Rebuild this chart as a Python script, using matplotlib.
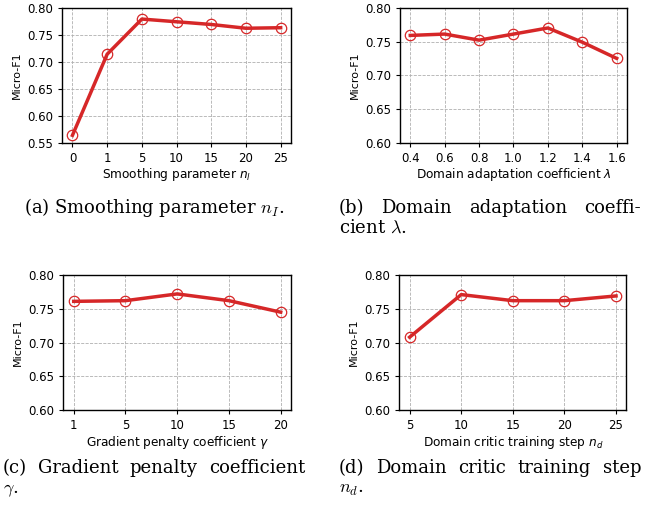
import numpy as np
import matplotlib
matplotlib.use('Agg')
import matplotlib.pyplot as plt

# Data
smooth_x = ['0', '1', '5', '10', '15', '20', '25']
smooth_y = [0.564, 0.714, 0.779, 0.774, 0.769, 0.762, 0.763]

lambda_x = ['0.4', '0.6', '0.8', '1.0', '1.2', '1.4', '1.6']
lambda_y = [0.759, 0.761, 0.752, 0.761, 0.770, 0.749, 0.725]

gamma_x = ['1', '5', '10', '15', '20']
gamma_y = [0.761, 0.762, 0.772, 0.762, 0.745]

critic_x = ['5', '10', '15', '20', '25']
critic_y = [0.708, 0.771, 0.762, 0.762, 0.769]

red = '#d62728'

fig = plt.figure(figsize=(6.6, 5.14), dpi=100)

# axes positions in figure fractions
boxes = [
    [0.094, 0.722, 0.347, 0.263],
    [0.606, 0.722, 0.344, 0.263],
    [0.096, 0.202, 0.345, 0.263],
    [0.605, 0.202, 0.344, 0.263],
]
panels = [
    (smooth_x, smooth_y, 'Smoothing parameter $n_l$', (0.55, 0.80)),
    (lambda_x, lambda_y, r'Domain adaptation coefficient $\lambda$', (0.60, 0.80)),
    (gamma_x, gamma_y, r'Gradient penalty coefficient $\gamma$', (0.60, 0.80)),
    (critic_x, critic_y, 'Domain critic training step $n_d$', (0.60, 0.80)),
]

for box, (xs, ys, xlabel, ylim) in zip(boxes, panels):
    ax = fig.add_axes(box)
    pos = np.arange(len(xs))
    ax.plot(pos, ys, color=red, lw=2.5, marker='o', markersize=7.5,
            markerfacecolor='none', markeredgecolor=red, markeredgewidth=0.9)
    ax.set_xticks(pos)
    ax.set_xticklabels(xs)
    ax.set_ylim(ylim)
    ax.set_yticks(np.arange(ylim[0], ylim[1] + 0.001, 0.05))
    ax.yaxis.set_major_formatter(matplotlib.ticker.FormatStrFormatter('%.2f'))
    ax.grid(True, ls='--', lw=0.6, color='#b0b0b0')
    ax.tick_params(labelsize=8.5, length=3)
    ax.set_xlabel(xlabel, fontsize=8.7, labelpad=1)
    ax.set_ylabel('Micro-F1', fontsize=8)
    for s in ax.spines.values():
        s.set_linewidth(1.0)

# Captions, justified like in the paper
cap_font = dict(family='DejaVu Serif', size=13, math_fontfamily='cm')
renderer = fig.canvas.get_renderer()


def px(x, y):
    return x / 660, 1 - y / 514


def justify(words, x0, x1, y):
    # spread the words so the line fills x0..x1 (pixels)
    texts = [fig.text(0, 0, w, ha='left', va='baseline', **cap_font) for w in words]
    widths = [t.get_window_extent(renderer).width for t in texts]
    gap = (x1 - x0 - sum(widths)) / (len(words) - 1)
    x = x0
    for t, w in zip(texts, widths):
        t.set_position(px(x, y))
        x += w + gap


fig.text(*px(154, 213), '(a) Smoothing parameter $n_I$.', ha='center', va='baseline', **cap_font)

justify(['(b)', 'Domain', 'adaptation', 'coeffi-'], 339, 641, 213)
fig.text(*px(339, 233), r'cient $\lambda$.', ha='left', va='baseline', **cap_font)

justify(['(c)', 'Gradient', 'penalty', 'coefficient'], 3, 305, 473)
fig.text(*px(3, 493), r'$\gamma$.', ha='left', va='baseline', **cap_font)

justify(['(d)', 'Domain', 'critic', 'training', 'step'], 339, 641, 473)
fig.text(*px(339, 493), '$n_d$.', ha='left', va='baseline', **cap_font)

fig.savefig('out.png', dpi=100)
